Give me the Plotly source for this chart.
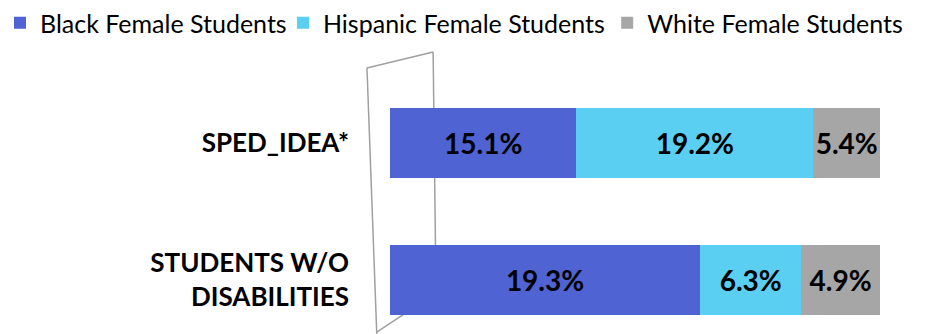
import plotly.graph_objects as go

categories = ["SPED_IDEA*", "STUDENTS W/O<br>DISABILITIES"]
series_names = ["Black Female Students", "Hispanic Female Students", "White Female Students"]
black_vals = [15.1, 19.3]
hispanic_vals = [19.2, 6.3]
white_vals = [5.4, 4.9]
colors = ["#4F63D2", "#5BCFF2", "#A6A6A6"]

FONT = "Lato"
legend_ids = ["legend", "legend2", "legend3"]
legend_x = [0.0, 0.302, 0.648]

fig = go.Figure()
for name, vals, col, lid in zip(series_names, [black_vals, hispanic_vals, white_vals], colors, legend_ids):
    fig.add_trace(go.Bar(
        y=categories, x=vals, name=name, orientation="h",
        marker=dict(color=col, line=dict(width=0)),
        text=[f"{v:.1f}%" for v in vals],
        textposition="inside", insidetextanchor="middle", textangle=0,
        constraintext="none",
        textfont=dict(family=FONT, size=28, color="black", weight="bold"),
        legend=lid,
    ))

# decorative back wall of the 3D chart
wall = [(-0.047, 0.971, 0.088, 1.029), (0.088, 1.029, 0.094, 0.150),
        (0.094, 0.150, -0.027, 0.007), (-0.047, 0.971, -0.027, 0.0)]
shapes = [dict(type="line", xref="paper", yref="paper", x0=a, y0=b, x1=c, y1=d,
               line=dict(color="#A0A0A0", width=1.5), layer="below") for a, b, c, d in wall]

legend_common = dict(orientation="v", xref="container", yref="container", y=1.0,
                     xanchor="left", yanchor="top", bgcolor="rgba(0,0,0,0)",
                     font=dict(family=FONT, size=25, color="black"), itemwidth=30)

fig.update_layout(
    width=937, height=334,
    barmode="stack", barnorm="percent", bargap=0.49,
    margin=dict(l=390, r=57, t=60, b=0, autoexpand=False),
    paper_bgcolor="white", plot_bgcolor="white",
    font=dict(family=FONT, color="black"),
    showlegend=True,
    legend=dict(x=legend_x[0], **legend_common),
    legend2=dict(x=legend_x[1], **legend_common),
    legend3=dict(x=legend_x[2], **legend_common),
    shapes=shapes,
)
fig.update_xaxes(visible=False, range=[0, 100], automargin=False)
fig.update_yaxes(range=[1.394, -0.606], showgrid=False, zeroline=False, showline=False,
                 ticks="", ticklabelstandoff=40, automargin=False,
                 tickfont=dict(family=FONT, size=26, color="black", weight="bold"))

fig.write_html("out.html")
